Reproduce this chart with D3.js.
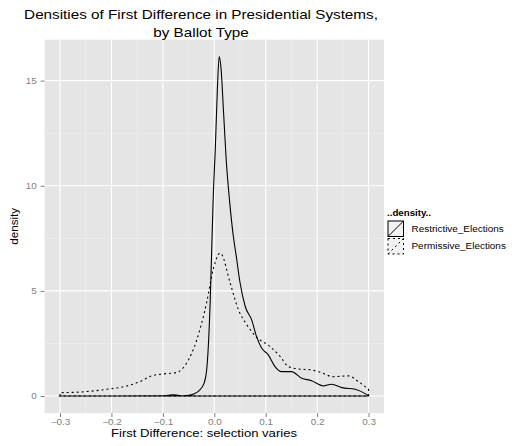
<!DOCTYPE html>
<html>
<head>
<meta charset="utf-8">
<script src="https://cdn.jsdelivr.net/npm/d3@7"></script>
<style>
  body { margin: 0; background: #fff; }
  text { font-family: "Liberation Sans", Arial, sans-serif; }
</style>
</head>
<body>
<div id="chart"></div>
<script>

var titleLines = ["Densities of First Difference in Presidential Systems,", "by Ballot Type"];
var xTitle = "First Difference: selection varies",
	yTitle = "density",
	legendTitle = "..density..";

var seriesNames = ["Restrictive_Elections", "Permissive_Elections"];

// density curves
var restrictiveX = [-0.3, -0.2, -0.1, -0.09, -0.08, -0.07, -0.06, -0.05, -0.04, -0.03, -0.02, -0.015,
	-0.012, -0.008, -0.005, -0.002, 0.002, 0.006, 0.0095, 0.013, 0.018, 0.023, 0.03, 0.037, 0.043,
	0.05, 0.06, 0.073, 0.082, 0.092, 0.105, 0.118, 0.131, 0.15, 0.17, 0.189, 0.212, 0.228, 0.248,
	0.274, 0.296, 0.3];
var restrictiveY = [0, 0, 0.01, 0.03, 0.06, 0.03, 0.01, 0.03, 0.1, 0.25, 0.6, 1.2,
	2.2, 4.5, 7.0, 9.5, 11.8, 14.6, 16.14, 15.6, 13.5, 11.3, 9.2, 7.6, 6.6,
	5.4, 4.27, 3.6, 2.84, 2.28, 1.96, 1.4, 1.16, 1.16, 0.85, 0.73, 0.48, 0.56, 0.4,
	0.32, 0.08, 0.02];

var permissiveX = [-0.3, -0.255, -0.209, -0.17, -0.144, -0.122, -0.099, -0.073, -0.054, -0.034,
	-0.015, -0.002, 0.011, 0.014, 0.0305, 0.047, 0.063, 0.082, 0.108, 0.128, 0.144, 0.163, 0.189,
	0.206, 0.231, 0.261, 0.28, 0.3];
var permissiveY = [0.16, 0.2, 0.32, 0.48, 0.69, 0.96, 1.05, 1.12, 1.56, 2.68,
	4.43, 6.03, 6.8, 6.75, 5.4, 4.1, 3.4, 2.8, 2.36, 1.88, 1.4, 1.29, 1.24,
	1.13, 0.92, 0.96, 0.69, 0.32];

var xTicks = [-0.3, -0.2, -0.1, 0.0, 0.1, 0.2, 0.3],
	xMinor = [-0.25, -0.15, -0.05, 0.05, 0.15, 0.25],
	yTicks = [0, 5, 10, 15],
	yMinor = [2.5, 7.5, 12.5];

var width = 522,
	height = 446;

// the reference text is a bit wide for its height
var stretch = 1.13;

var panel = {left: 44.6, right: 384, top: 39.7, bottom: 413};

var svg = d3.select("#chart")
	.append("svg")
	.attr("width", width)
	.attr("height", height);

var x = d3.scaleLinear()
	.domain([-0.33, 0.33])
	.range([panel.left, panel.right]);

var yMax = d3.max(restrictiveY),
	yPad = yMax * 0.05;

var y = d3.scaleLinear()
	.domain([-yPad, yMax + yPad])
	.range([panel.bottom, panel.top]);

// panel background
svg.append("rect")
	.attr("x", panel.left)
	.attr("y", panel.top)
	.attr("width", panel.right - panel.left)
	.attr("height", panel.bottom - panel.top)
	.attr("fill", "#e5e5e5");

var grid = svg.append("g");

grid.selectAll("line.xminor")
	.data(xMinor)
	.enter()
	.append("line")
	.attr("x1", function(d){ return x(d); })
	.attr("x2", function(d){ return x(d); })
	.attr("y1", panel.top)
	.attr("y2", panel.bottom)
	.attr("stroke", "#f2f2f2")
	.attr("stroke-width", 0.6);

grid.selectAll("line.yminor")
	.data(yMinor)
	.enter()
	.append("line")
	.attr("y1", function(d){ return y(d); })
	.attr("y2", function(d){ return y(d); })
	.attr("x1", panel.left)
	.attr("x2", panel.right)
	.attr("stroke", "#f2f2f2")
	.attr("stroke-width", 0.6);

grid.selectAll("line.xmajor")
	.data(xTicks)
	.enter()
	.append("line")
	.attr("x1", function(d){ return x(d); })
	.attr("x2", function(d){ return x(d); })
	.attr("y1", panel.top)
	.attr("y2", panel.bottom)
	.attr("stroke", "#fff")
	.attr("stroke-width", 1.1);

grid.selectAll("line.ymajor")
	.data(yTicks)
	.enter()
	.append("line")
	.attr("y1", function(d){ return y(d); })
	.attr("y2", function(d){ return y(d); })
	.attr("x1", panel.left)
	.attr("x2", panel.right)
	.attr("stroke", "#fff")
	.attr("stroke-width", 1.1);

// density outlines, closed down to the baseline like ggplot polygons
var line = d3.line()
	.x(function(d){ return x(d[0]); })
	.y(function(d){ return y(d[1]); })
	.curve(d3.curveMonotoneX);

function outline(xs, ys) {
	var pts = d3.zip(xs, ys);
	var first = xs[0], last = xs[xs.length - 1];
	return "M" + x(first) + "," + y(0) + "L" + line(pts).slice(1) +
		"L" + x(last) + "," + y(0) + "Z";
}

svg.append("path")
	.attr("d", outline(permissiveX, permissiveY))
	.attr("fill", "none")
	.attr("stroke", "#000")
	.attr("stroke-width", 1.1)
	.attr("stroke-dasharray", "2,3");

svg.append("path")
	.attr("d", outline(restrictiveX, restrictiveY))
	.attr("fill", "none")
	.attr("stroke", "#000")
	.attr("stroke-width", 1.1);

// axes
var xAxis = svg.append("g")
	.attr("transform", "translate(0," + panel.bottom + ")")
	.call(d3.axisBottom(x)
		.tickValues(xTicks)
		.tickSize(4)
		.tickPadding(2)
		.tickFormat(function(d){ return d3.format(".1f")(d).replace("-", "\u2212"); }));

var yAxis = svg.append("g")
	.attr("transform", "translate(" + panel.left + ",0)")
	.call(d3.axisLeft(y)
		.tickValues(yTicks)
		.tickSize(4)
		.tickPadding(3));

[xAxis, yAxis].forEach(function(a){
	a.select(".domain").remove();
	a.selectAll(".tick line").attr("stroke", "#7f7f7f");
	a.selectAll(".tick text")
		.attr("fill", "#7f7f7f")
		.attr("transform", "scale(" + stretch + ",1)")
		.style("font-size", "8.8px")
		.style("font-family", "'Liberation Sans', Arial, sans-serif");
});

// put a text at (px, py) stretched sideways
function wideText(sel, px, py) {
	return sel.attr("transform", "translate(" + px + "," + py + ") scale(" + stretch + ",1)");
}

// titles
svg.selectAll("text.title")
	.data(titleLines)
	.enter()
	.append("text")
	.attr("transform", function(d, i){
		return "translate(201," + (19.3 + i * 17.4) + ") scale(" + stretch + ",1)";
	})
	.attr("text-anchor", "middle")
	.style("font-size", "13.5px")
	.text(function(d){ return d; });

wideText(svg.append("text"), 204, 437.3)
	.attr("text-anchor", "middle")
	.style("font-size", "11.6px")
	.text(xTitle);

svg.append("text")
	.attr("transform", "translate(18," + ((panel.top + panel.bottom) / 2) + ") rotate(-90)")
	.attr("text-anchor", "middle")
	.style("font-size", "11.6px")
	.text(yTitle);

// legend
var legend = svg.append("g")
	.attr("transform", "translate(387,0)");

wideText(legend.append("text"), 0, 216)
	.style("font-size", "8.6px")
	.style("font-weight", "bold")
	.text(legendTitle);

var keySize = 17.5;

var keys = legend.selectAll("g.key")
	.data(seriesNames)
	.enter()
	.append("g")
	.attr("transform", function(d, i){ return "translate(0," + (220 + i * keySize) + ")"; });

keys.append("rect")
	.attr("width", keySize)
	.attr("height", keySize)
	.attr("fill", "#f2f2f2")
	.attr("stroke", "#fff");

keys.append("rect")
	.attr("x", 1)
	.attr("y", 1)
	.attr("width", keySize - 2)
	.attr("height", keySize - 2)
	.attr("fill", "none")
	.attr("stroke", "#000")
	.attr("stroke-width", 1)
	.attr("stroke-dasharray", function(d, i){ return i ? "2,3" : null; });

keys.append("line")
	.attr("x1", 1)
	.attr("y1", keySize - 1)
	.attr("x2", keySize - 1)
	.attr("y2", 1)
	.attr("stroke", "#000")
	.attr("stroke-width", 1)
	.attr("stroke-dasharray", function(d, i){ return i ? "2,3" : null; });

keys.each(function(){
	wideText(d3.select(this).append("text"), keySize + 7, keySize / 2 + 3.2)
		.style("font-size", "8.8px")
		.text(function(d){ return d; });
});

</script>
</body>
</html>
